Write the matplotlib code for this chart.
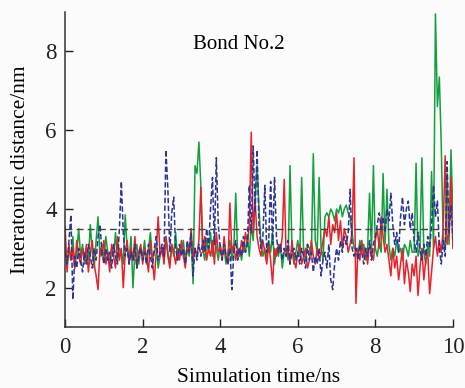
import numpy as np
import matplotlib
matplotlib.use("Agg")
import matplotlib.pyplot as plt

plt.rcParams['font.family'] = ['Liberation Serif', 'DejaVu Serif']

# time axis (ns), one sample every 0.05 ns
time_ns = np.linspace(0, 10, 201)

green = [
    3.1, 2.6, 3.0, 2.7, 3.3, 2.5, 2.9, 3.5, 2.8, 3.1,
    2.6, 3.0, 2.7, 3.6, 2.9, 2.5, 3.2, 3.8, 2.8, 3.1,
    2.7, 3.3, 2.9, 2.6, 3.0, 2.8, 3.4, 2.7, 3.0, 2.9,
    2.6, 3.85, 3.0, 2.7, 3.3, 2.0, 2.9, 3.1, 2.6, 3.0,
    2.8, 3.2, 2.6, 3.0, 3.4, 2.7, 2.9, 3.1, 2.5, 2.8,
    3.0, 2.7, 3.3, 2.9, 2.6, 3.1, 2.8, 3.4, 2.7, 3.0,
    2.9, 3.2, 2.6, 3.0, 2.8, 3.3, 2.1, 5.1, 4.9, 5.7,
    4.6, 3.0, 2.7, 3.2, 2.9, 3.4, 2.8, 3.3, 3.0, 2.7,
    3.1, 2.8, 3.0, 2.6, 2.9, 3.2, 2.7, 3.0, 4.4, 2.8,
    3.0, 2.7, 3.1, 2.9, 3.3, 2.8, 3.6, 3.2, 4.3, 5.1,
    4.0, 3.1, 2.8, 3.0, 2.7, 3.2, 2.9, 3.4, 2.6, 3.0,
    2.8, 3.1, 2.5, 2.9, 3.0, 2.7, 5.1, 3.0, 2.6, 2.9,
    3.2, 2.8, 4.8, 2.9, 2.7, 3.1, 3.0, 2.8, 5.4, 3.2,
    2.9, 4.8, 3.0, 2.7, 3.8, 3.9, 3.8, 4.0, 3.9, 3.7,
    4.0, 3.9, 4.1, 3.8, 4.0, 4.1, 3.9, 3.8, 3.4, 3.0,
    3.0, 2.8, 3.2, 2.9, 3.1, 2.7, 3.0, 4.4, 2.9, 5.1,
    3.0, 2.8, 3.2, 2.9, 4.9, 3.1, 4.5, 3.1, 2.7, 3.0,
    2.8, 3.2, 2.9, 3.0, 2.7, 3.1, 3.0, 2.8, 3.2, 2.9,
    2.9, 5.16, 2.8, 3.0, 5.3, 2.9, 2.6, 3.1, 2.8, 4.95,
    3.0, 8.95, 6.6, 7.35, 5.6, 3.2, 3.0, 4.9, 3.1, 5.5,
    3.9,
]

red = [
    3.55, 2.4, 3.1, 2.7, 3.0, 2.5, 3.2, 2.8, 2.6, 3.0,
    2.7, 3.1, 2.4, 2.9, 3.2, 2.6, 2.3, 1.95, 3.0, 2.8,
    3.2, 2.6, 2.9, 2.4, 3.1, 2.8, 2.5, 3.3, 2.7, 3.0,
    2.0, 2.9, 3.2, 2.6, 3.0, 2.7, 3.3, 2.5, 2.9, 3.1,
    2.6, 3.0, 2.8, 2.4, 3.2, 2.7, 2.2, 2.9, 3.8, 2.8,
    3.0, 2.6, 3.3, 2.8, 2.5, 3.1, 2.9, 2.6, 3.0, 2.7,
    3.2, 2.8, 2.5, 3.1, 2.9, 3.5, 2.7, 3.0, 2.8, 3.2,
    4.55, 2.9, 3.3, 2.7, 3.0, 2.8, 3.2, 2.6, 3.4, 2.9,
    3.0, 2.7, 3.3, 2.8, 2.6, 4.15, 2.9, 3.1, 2.7, 3.0,
    2.8, 3.2, 2.9, 3.4, 3.1, 3.6, 5.95, 3.4, 4.2, 3.3,
    3.0, 2.8, 3.2, 2.9, 2.6, 3.1, 2.7, 2.1, 3.0, 2.8,
    3.1, 2.9, 3.3, 4.75, 2.8, 3.0, 2.6, 3.2, 2.7, 2.5,
    2.9, 3.1, 2.6, 2.8, 3.0, 2.5, 2.7, 3.2, 2.8, 2.6,
    3.0, 2.7, 2.9, 3.2, 3.5, 3.3, 3.8, 3.1, 3.6, 3.4,
    3.9, 3.2, 3.7, 3.0, 3.5, 3.3, 2.9, 3.1, 3.4, 5.3,
    1.6, 3.0, 2.7, 3.2, 2.8, 3.0, 2.6, 3.1, 2.9, 2.7,
    3.2, 3.5, 3.0, 3.8, 3.3, 2.9, 3.1, 2.7, 2.3, 3.0,
    2.5, 2.8, 2.2, 2.6, 3.0, 2.1, 2.7, 2.4, 1.9, 2.6,
    2.3, 2.8, 1.8, 2.5, 3.0, 2.2, 2.7, 2.9, 1.85, 2.4,
    3.0, 3.3, 2.8, 3.2, 2.9, 3.5, 5.35, 3.1, 3.4, 4.8,
    3.0,
]

blue = [
    2.9, 2.6, 3.2, 3.85, 1.7, 2.8, 2.5, 3.0, 2.7, 2.4,
    2.9, 2.6, 3.1, 2.8, 2.5, 3.0, 2.7, 3.3, 3.6, 2.9,
    2.6, 3.0, 2.7, 2.9, 2.5, 3.1, 2.8, 2.6, 3.5, 4.7,
    3.4, 2.8, 3.0, 2.6, 2.9, 2.7, 3.1, 2.5, 2.8, 3.0,
    2.7, 2.9, 2.6, 3.1, 2.8, 2.5, 3.0, 3.3, 2.7, 2.9,
    3.1, 2.8, 5.5, 4.5, 2.9, 3.9, 4.3, 3.0, 2.7, 3.1,
    2.8, 3.0, 2.6, 3.2, 2.9, 3.4, 2.3, 3.0, 2.7, 3.1,
    2.8, 3.2, 2.9, 3.5, 3.0, 4.0, 4.8, 3.1, 5.3, 3.6,
    3.0, 2.7, 3.1, 2.8, 2.6, 3.0, 1.95, 2.9, 3.2, 2.7,
    3.0, 2.8, 3.3, 2.9, 3.1, 4.6, 3.4, 5.6, 3.9, 5.5,
    3.6, 3.0, 3.3, 4.6, 2.9, 3.2, 4.7, 3.1, 4.8, 3.3,
    2.9, 3.1, 2.7, 3.0, 2.8, 3.2, 2.6, 2.9, 3.0, 2.7,
    2.9, 2.6, 3.0, 2.8, 2.5, 3.1, 2.7, 2.9, 2.4, 2.8,
    2.6, 3.0, 2.3, 2.7, 2.9, 2.5, 3.1, 2.2, 1.95, 2.6,
    3.0, 2.7, 3.2, 2.9, 3.3, 3.1, 3.4, 4.5, 3.0, 2.8,
    3.0, 2.7, 3.1, 2.9, 2.6, 3.0, 2.8, 3.2, 2.7, 3.1,
    3.3, 3.6, 3.9, 3.5, 3.8, 3.4, 4.0, 3.7, 4.4, 3.6,
    3.1, 3.4, 2.9, 3.8, 4.3, 3.6, 4.0, 4.2, 3.5, 3.9,
    3.2, 2.9, 3.4, 3.0, 2.7, 3.1, 2.8, 3.3, 3.0, 3.6,
    4.6, 3.8, 4.2, 3.0, 2.6, 3.2, 2.8, 5.2, 3.4, 4.1,
    3.2,
]

threshold = 3.5
x_ticks = [0, 2, 4, 6, 8, 10]
y_ticks = [2, 4, 6, 8]

fig = plt.figure(figsize=(4.65, 3.88), dpi=100, facecolor='#fbfbfb')
ax = fig.add_axes([0.14, 0.157, 0.834, 0.812])
ax.set_facecolor('#fbfbfb')

ax.plot(time_ns, green, color='#12a03c', lw=1.1)
ax.plot(time_ns, red, color='#e8222a', lw=1.1)
ax.plot(time_ns, blue, color='#2b3592', lw=1.1, ls=(0, (3.5, 1.6)))
ax.plot([0, 10], [threshold, threshold], color='#444444', lw=1.0, ls=(0, (5, 3)))

ax.set_xlim(0, 10)
ax.set_ylim(1, 9)
ax.set_xticks(x_ticks)
ax.set_yticks(y_ticks)
ax.tick_params(direction='in', length=6, width=1.0, labelsize=16.5, colors='#222222')
ax.tick_params(axis='x', pad=7)
ax.tick_params(axis='y', pad=6)
for s in ['top', 'right']:
    ax.spines[s].set_visible(False)
for s in ['left', 'bottom']:
    ax.spines[s].set_linewidth(1.1)
    ax.spines[s].set_color('#333333')

ax.set_xlabel('Simulation time/ns', fontsize=15.5, labelpad=7)
ax.set_ylabel('Interatomic distance/nm', fontsize=15.5, labelpad=11)
ax.text(3.3, 8.05, 'Bond No.2', fontsize=15, va='baseline', ha='left')

fig.savefig('out.png', dpi=100, facecolor=fig.get_facecolor())
